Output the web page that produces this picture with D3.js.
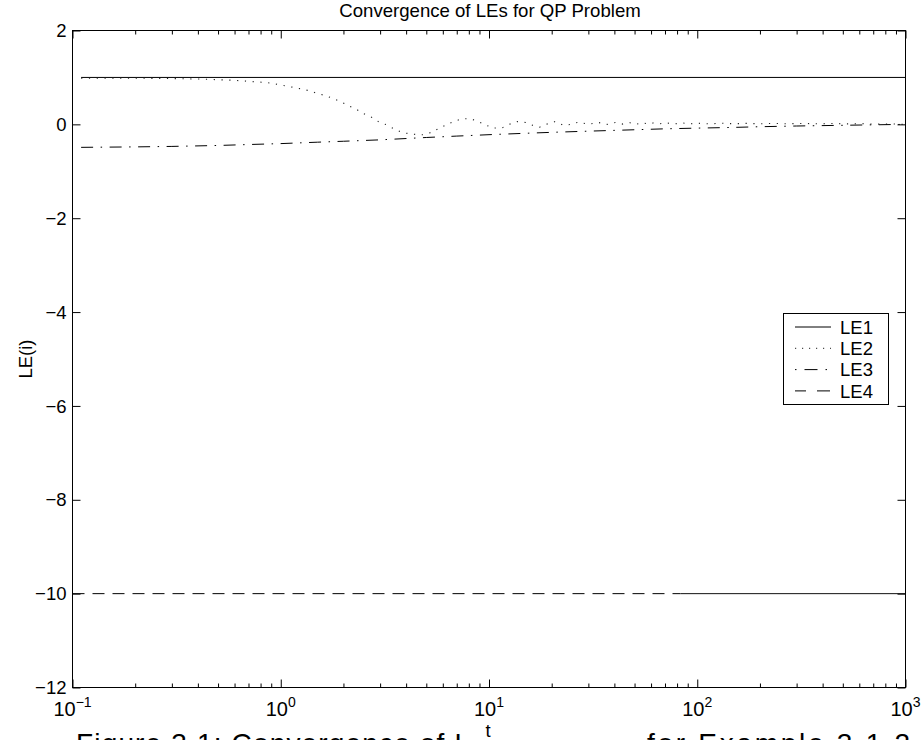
<!DOCTYPE html>
<html>
<head>
<meta charset="utf-8">
<script src="https://cdn.jsdelivr.net/npm/d3@7"></script>
<style>
  html, body { margin: 0; padding: 0; background: #fff; overflow: hidden; }
  svg { display: block; }
  text { font-family: "Liberation Sans", Arial, Helvetica, sans-serif; fill: #000; }
</style>
</head>
<body>
<svg id="chart" width="924" height="740"></svg>
<script>
// ---------------- data ----------------
const titleText = "Convergence of LEs for QP Problem";
const xLabelText = "t";
const yLabelText = "LE(i)";
const captionParts = ["Figure 3.1: Convergence of L", "for Example 3.1.2"];

const xMajorTicks = [0.1, 1, 10, 100, 1000];
const xTickExponents = ["\u22121", "0", "1", "2", "3"];
const yTicks = [-12, -10, -8, -6, -4, -2, 0, 2];
const yTickLabels = ["\u221212", "\u221210", "\u22128", "\u22126", "\u22124", "\u22122", "0", "2"];

const seriesNames = ["LE1", "LE2", "LE3", "LE4"];

const le1T = [0.11, 1000];
const le1V = [1, 1];

const le2T = [0.11, 0.2, 0.3, 0.41, 0.59, 0.86, 1.03, 1.24, 1.36, 1.5, 1.64, 1.79, 1.95, 2.11, 2.31,
  2.49, 2.73, 2.94, 3.22, 3.48, 3.8, 4.15, 4.53, 4.84, 5.29, 5.72, 6.24, 6.75, 7.45, 8.14, 8.89,
  9.72, 10.5, 11.6, 12.5, 13.7, 15.0, 16.2, 17.5, 19.1, 20.8, 22.8, 24.9, 26.9, 30, 33.5, 37,
  40.5, 44, 47.5, 51, 54.5, 58, 61.5, 65, 71, 78, 85, 92, 100, 115, 130, 150, 170, 200, 230,
  270, 320, 380, 450, 530, 620, 720, 850, 1000];
const le2V = [0.985, 0.985, 0.975, 0.965, 0.94, 0.89, 0.83, 0.76, 0.72, 0.66, 0.61, 0.55, 0.48, 0.40, 0.32,
  0.23, 0.15, 0.06, -0.01, -0.09, -0.17, -0.20, -0.22, -0.22, -0.17, -0.09, -0.01, 0.06, 0.12, 0.12, 0.06,
  -0.02, -0.08, -0.07, 0.0, 0.06, 0.04, -0.02, -0.06, 0.01, 0.06, -0.02, 0.0, 0.05, 0.0, 0.04, 0.0,
  0.04, 0.005, 0.035, 0.005, 0.035, 0.01, 0.03, 0.01, 0.03, 0.01, 0.03, 0.01, 0.025, 0.01, 0.025, 0.012, 0.022, 0.012, 0.02,
  0.012, 0.02, 0.012, 0.018, 0.01, 0.015, 0.005, 0.01, 0.0];

const le3T = [0.11, 0.2, 0.3, 0.5, 0.7, 1, 1.5, 2, 3, 5, 7, 10, 15, 20, 30, 50, 70, 100, 150, 200, 300, 500, 700, 1000];
const le3V = [-0.49, -0.48, -0.47, -0.45, -0.43, -0.41, -0.38, -0.36, -0.33, -0.28, -0.25, -0.22, -0.19, -0.17,
  -0.145, -0.115, -0.095, -0.08, -0.065, -0.05, -0.035, -0.02, -0.01, 0.0];

const le4T = [0.1, 83, 1000];
const le4V = [-10, -10, -10];

// ---------------- layout ----------------
const svg = d3.select("#chart");
const L = 72.5, R = 905.5, T = 30.5, B = 687.5;
const x = d3.scaleLog().domain([0.1, 1000]).range([L, R]);
const y = d3.scaleLinear().domain([-12, 2]).range([B, T]);

const minorTicks = [];
for (let e = -1; e < 3; e++) for (let k = 2; k <= 9; k++) minorTicks.push(k * Math.pow(10, e));

const line = d3.line().x(d => x(d[0])).y(d => y(d[1]));
const zip = (a, b) => a.map((v, i) => [v, b[i]]);

const plot = svg.append("g");

// series
plot.append("path").datum(zip(le1T, le1V)).attr("d", line)
  .attr("fill", "none").attr("stroke", "#000").attr("stroke-width", 1);

plot.append("path").datum(zip(le2T, le2V)).attr("d", line)
  .attr("fill", "none").attr("stroke", "#222").attr("stroke-width", 1.1)
  .attr("stroke-dasharray", "1.2,6.6");

plot.append("path").datum(zip(le3T, le3V)).attr("d", line)
  .attr("fill", "none").attr("stroke", "#000").attr("stroke-width", 1)
  .attr("stroke-dasharray", "12,7.5,1.5,7.5");

const le4Pts = zip(le4T, le4V);
plot.append("path").datum(le4Pts.slice(0, 2)).attr("d", line)
  .attr("fill", "none").attr("stroke", "#000").attr("stroke-width", 1)
  .attr("stroke-dasharray", "12,8");
plot.append("path").datum(le4Pts.slice(1)).attr("d", line)
  .attr("fill", "none").attr("stroke", "#111").attr("stroke-width", 1);

// axes ticks (inward)
const noFmt = () => "";
svg.append("g").attr("transform", `translate(0,${B})`)
  .call(d3.axisBottom(x).tickValues(xMajorTicks).tickSizeInner(-8).tickSizeOuter(0).tickFormat(noFmt));
svg.append("g").attr("transform", `translate(0,${B})`)
  .call(d3.axisBottom(x).tickValues(minorTicks).tickSizeInner(-4).tickSizeOuter(0).tickFormat(noFmt));
svg.append("g").attr("transform", `translate(0,${T})`)
  .call(d3.axisTop(x).tickValues(xMajorTicks).tickSizeInner(-8).tickSizeOuter(0).tickFormat(noFmt));
svg.append("g").attr("transform", `translate(0,${T})`)
  .call(d3.axisTop(x).tickValues(minorTicks).tickSizeInner(-4).tickSizeOuter(0).tickFormat(noFmt));
svg.append("g").attr("transform", `translate(${L},0)`)
  .call(d3.axisLeft(y).tickValues(yTicks).tickSizeInner(-8).tickSizeOuter(0).tickFormat(noFmt));
svg.append("g").attr("transform", `translate(${R},0)`)
  .call(d3.axisRight(y).tickValues(yTicks).tickSizeInner(-8).tickSizeOuter(0).tickFormat(noFmt));
svg.selectAll(".domain").remove();
svg.selectAll(".tick line").attr("stroke", "#000").attr("stroke-width", 1);

// box
svg.append("rect").attr("x", L).attr("y", T).attr("width", R - L).attr("height", B - T)
  .attr("fill", "none").attr("stroke", "#000").attr("stroke-width", 1);

// y tick labels
svg.append("g").selectAll("text").data(yTicks).join("text")
  .attr("x", 66.5).attr("y", d => y(d)).attr("dy", "0.36em")
  .attr("text-anchor", "end").attr("font-size", 18.5)
  .text((d, i) => yTickLabels[i]);

// x tick labels 10^n
const xl = svg.append("g").selectAll("text").data(xMajorTicks).join("text")
  .attr("x", d => x(d)).attr("y", 716).attr("text-anchor", "middle").attr("font-size", 20);
xl.append("tspan").text("10");
xl.append("tspan").attr("dy", -9).attr("font-size", 14).text((d, i) => xTickExponents[i]);

// title & labels
svg.append("text").attr("x", 490).attr("y", 17).attr("text-anchor", "middle")
  .attr("font-size", 18.6).text(titleText);
svg.append("text").attr("x", 488).attr("y", 737).attr("text-anchor", "middle")
  .attr("font-size", 18.5).text(xLabelText);
svg.append("text").attr("transform", `translate(32,${(T + B) / 2}) rotate(-90)`)
  .attr("text-anchor", "middle").attr("font-size", 18.5).text(yLabelText);

// caption (only its top shows at the image edge)
const capX = [76, 647], capW = [394, 263];
svg.append("g").selectAll("text").data(captionParts).join("text")
  .attr("x", (d, i) => capX[i]).attr("y", 753)
  .attr("font-family", "'Liberation Serif', 'DejaVu Serif', serif").attr("font-size", 28)
  .attr("textLength", (d, i) => capW[i]).attr("lengthAdjust", "spacing").text(d => d);

// legend
const lg = svg.append("g");
lg.append("rect").attr("x", 783.5).attr("y", 313.5).attr("width", 105).attr("height", 91)
  .attr("fill", "#fff").attr("stroke", "#000").attr("stroke-width", 1);
const legendDash = ["none", "1.2,5.8", "1.5,8,13,8,1.5,50", "11,11,13,50"];
const legendStroke = ["#000", "#222", "#000", "#000"];
const rows = lg.selectAll("g.row").data(seriesNames).join("g").attr("class", "row")
  .attr("transform", (d, i) => `translate(0,${327 + i * 21.3})`);
rows.append("line").attr("x1", 795).attr("x2", 831).attr("y1", 0).attr("y2", 0)
  .attr("stroke", (d, i) => legendStroke[i]).attr("stroke-width", 1)
  .attr("stroke-dasharray", (d, i) => legendDash[i]);
rows.append("text").attr("x", 840).attr("y", 0).attr("dy", "0.36em")
  .attr("font-size", 18.5).text(d => d);
</script>
</body>
</html>
